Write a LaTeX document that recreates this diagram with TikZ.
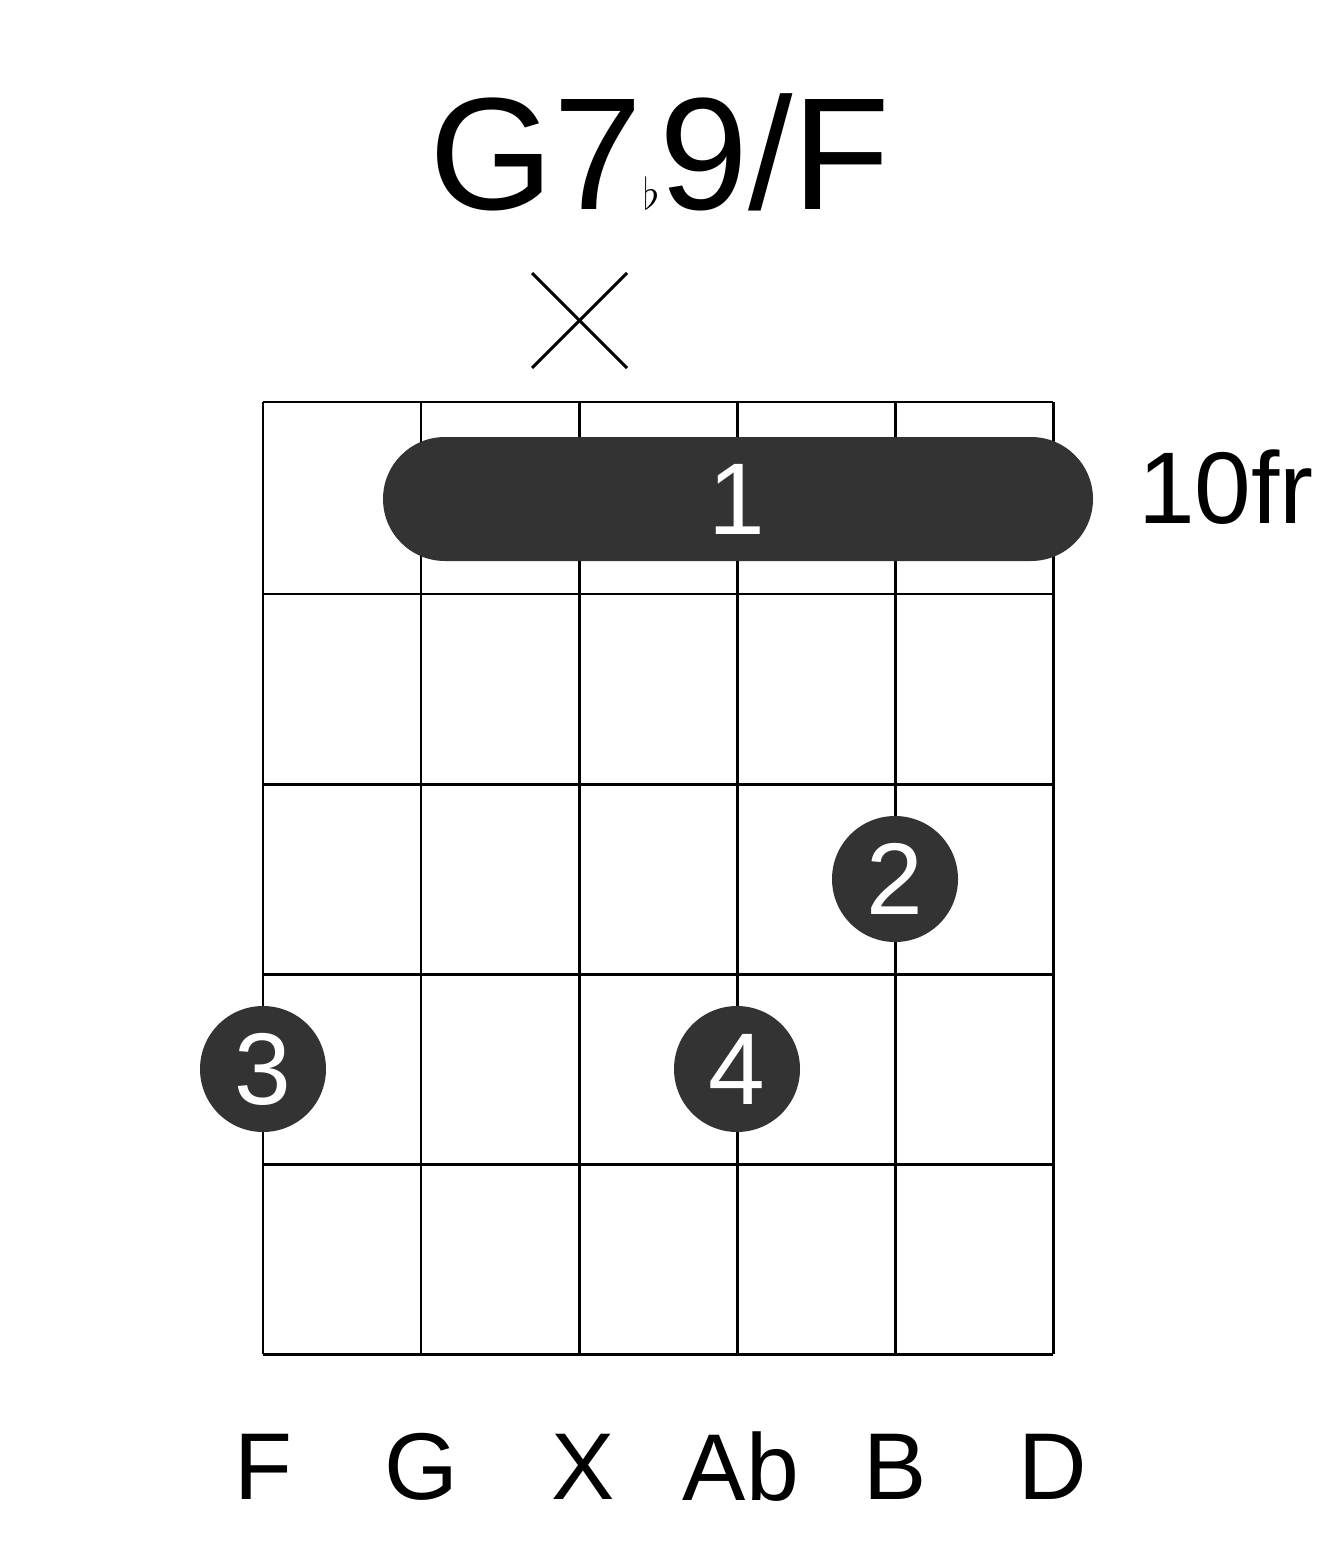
\documentclass[tikz,border=0pt]{standalone}
\usepackage{fontspec}
\setmainfont{Liberation Sans}
\definecolor{dotgray}{HTML}{333333}
\tikzset{
  fretline/.style={line width=1.7pt},
  fingerdot/.style={circle,fill=dotgray,minimum size=126*0.02cm,inner sep=0pt,text=white,font=\fontsize{58}{60}\selectfont},
  notelabel/.style={font=\fontsize{54}{56}\selectfont}
}
\begin{document}
\begin{tikzpicture}[x=0.02cm,y=-0.02cm]
\useasboundingbox (0,0) rectangle (1317,1551);
% grid
\foreach \s in {263,421,579,737,895,1053}
  \draw [fretline] (\s,402) -- (\s,1354);
\foreach \f in {402,594,784,974,1164,1354}
  \draw [fretline] (263,\f) -- (1053,\f);
% title
\node (title) at (660,152) {\fontsize{91}{95}\selectfont G7$\flat$9/F};
% muted string
\draw [line width=1.7pt] (532,273) -- (627,368);
\draw [line width=1.7pt] (532,368) -- (627,273);
% barre
\fill [dotgray,rounded corners=62*0.02cm] (383,437) rectangle (1093,561);
\node [text=white,font=\fontsize{58}{60}\selectfont] (barre) at (737,499) {1};
\node [anchor=west,font=\fontsize{58}{60}\selectfont] (fret) at (1132,487) {10fr};
% fingers
\node [fingerdot] (two) at (895,879) {2};
\node [fingerdot] (three) at (263,1069) {3};
\node [fingerdot] (four) at (737,1069) {4};
% notes
\node [notelabel] (nF) at (263,1467) {F};
\node [notelabel] (nG) at (421,1467) {G};
\node [notelabel] (nX) at (583,1467) {X};
\node [notelabel] (nAb) at (741,1467) {Ab};
\node [notelabel] (nB) at (895,1467) {B};
\node [notelabel] (nD) at (1053,1467) {D};
\end{tikzpicture}
\end{document}
